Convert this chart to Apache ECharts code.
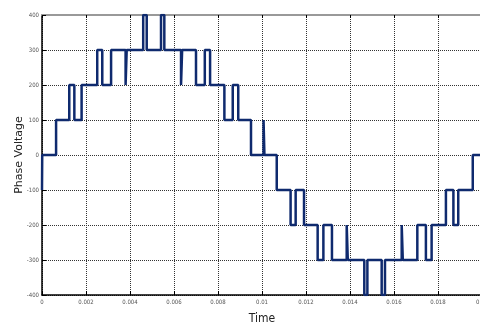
<!DOCTYPE html>
<html>
<head>
<meta charset="utf-8">
<script src="https://cdn.jsdelivr.net/npm/echarts@6/dist/echarts.min.js"></script>
<style>
  html, body { margin: 0; padding: 0; background: #fff; }
  #chart { width: 480px; height: 324px; }
</style>
</head>
<body>
<div id="chart"></div>
<script>
// switching instants (s) and the level held from each instant on
const switchTimes = [
  0, 0.00001, 0.00064, 0.00124, 0.00147, 0.0018, 0.00251, 0.00274, 0.00314,
  0.0038, 0.00385, 0.0046, 0.00476, 0.00541, 0.00556, 0.00632, 0.00637,
  0.007, 0.0074, 0.00764, 0.00829, 0.00867, 0.00892, 0.0095, 0.01007, 0.01011,
  0.01067, 0.0113, 0.01153, 0.01191, 0.01253, 0.01279, 0.01318, 0.01385,
  0.0139, 0.01465, 0.01479, 0.01544, 0.01559, 0.01635, 0.0164, 0.01706,
  0.01745, 0.01771, 0.01836, 0.0187, 0.01892, 0.01958, 0.02
];
const levels = [
  -100, 0, 100, 200, 100, 200, 300, 200, 300,
  200, 300, 400, 300, 400, 300, 200, 300,
  200, 300, 200, 100, 200, 100, 0, 100, 0,
  -100, -200, -100, -200, -300, -200, -300, -200,
  -300, -400, -300, -400, -300, -200, -300, -200,
  -300, -200, -100, -200, -100, 0, 0
];
const xTicks = ['0', '0.002', '0.004', '0.006', '0.008', '0.01', '0.012', '0.014', '0.016', '0.018', '0.02'];

const chart = echarts.init(document.getElementById('chart'));
const narrow = "'DejaVu Sans Condensed', 'Liberation Sans', sans-serif";
const tickFont = { fontFamily: narrow, fontSize: 6, color: '#555' };
const gridLine = { show: true, lineStyle: { color: '#333', type: [1, 1], width: 1 } };

chart.setOption({
  animation: false,
  grid: { left: 42, top: 15, width: 440, height: 280, outerBoundsMode: 'none' },
  xAxis: [
    {
      type: 'value', min: 0, max: 0.02, interval: 0.002,
      name: 'Time', nameLocation: 'middle', nameGap: 18, nameMoveOverlap: false,
      nameTextStyle: { fontFamily: narrow, fontSize: 12, color: '#222' },
      axisLine: { onZero: false, lineStyle: { color: '#000', width: 1.5 } },
      axisTick: { inside: true, length: 4, lineStyle: { color: '#000' } },
      axisLabel: Object.assign({ margin: 4, formatter: (v, i) => xTicks[i] }, tickFont),
      splitLine: gridLine
    },
    {
      type: 'value', min: 0, max: 0.02, interval: 0.002, position: 'top',
      axisLine: { show: true, onZero: false, lineStyle: { color: '#999', width: 2 } },
      axisTick: { inside: true, length: 3, lineStyle: { color: '#000' } },
      axisLabel: { show: false },
      splitLine: { show: false }
    }
  ],
  yAxis: {
    type: 'value', min: -400, max: 400, interval: 100,
    name: 'Phase Voltage', nameLocation: 'middle', nameGap: 17, nameMoveOverlap: false,
    nameTextStyle: { fontFamily: 'DejaVu Sans', fontSize: 11, color: '#222' },
    axisLine: { show: true, onZero: false, lineStyle: { color: '#000', width: 1.5 } },
    axisTick: { show: true, inside: true, length: 4, lineStyle: { color: '#000' } },
    axisLabel: Object.assign({ margin: 3 }, tickFont),
    splitLine: gridLine
  },
  series: [{
    type: 'line',
    step: 'end',
    symbol: 'none',
    data: switchTimes.map((t, i) => [t, levels[i]]),
    lineStyle: { color: '#0f2a6e', width: 2.5 }
  }]
});
</script>
</body>
</html>
